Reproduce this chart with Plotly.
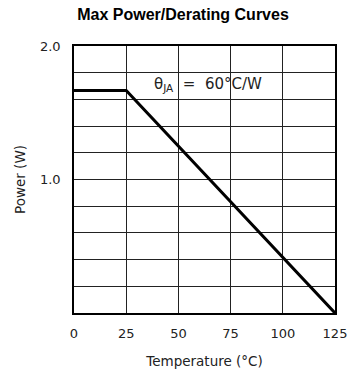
import plotly.graph_objects as go

# Data
temperature = [0, 25, 125]
power = [1.667, 1.667, 0.0]
x_ticks = [0, 25, 50, 75, 100, 125]
y_grid = [0.0, 0.2, 0.4, 0.6, 0.8, 1.0, 1.2, 1.4, 1.6, 1.8, 2.0]
y_labels = ["", "", "", "", "", "1.0", "", "", "", "", "2.0"]

fig = go.Figure()
fig.add_trace(go.Scatter(x=temperature, y=power, mode="lines",
                         line=dict(color="black", width=3), hoverinfo="skip"))

tick_font = dict(family="DejaVu Sans", size=13, color="#222")
title_font = dict(family="DejaVu Sans", size=13.5, color="#222")

fig.update_layout(
    width=359, height=379,
    margin=dict(l=74, r=14, t=46, b=63),
    paper_bgcolor="white", plot_bgcolor="white",
    showlegend=False,
    title=dict(text="<b>Max Power/Derating Curves</b>", x=183 / 359, xref="container",
               xanchor="center",
               y=1 - 14 / 379, yref="container", yanchor="middle",
               font=dict(family="Liberation Sans", size=16, color="black")),
    xaxis=dict(range=[0, 125], tickvals=x_ticks, ticktext=[str(v) for v in x_ticks],
               showgrid=True, gridcolor="#222", gridwidth=1,
               showline=True, linecolor="black", linewidth=1.5, mirror=True,
               ticks="outside", ticklen=8, tickcolor="rgba(0,0,0,0)",
               tickfont=tick_font, zeroline=False,
               title=dict(text="Temperature (°C)", font=title_font, standoff=16)),
    yaxis=dict(range=[0, 2], tickvals=y_grid, ticktext=y_labels,
               showgrid=True, gridcolor="#222", gridwidth=1,
               showline=True, linecolor="black", linewidth=1.5, mirror=True,
               ticks="outside", ticklen=9, tickcolor="rgba(0,0,0,0)",
               tickfont=tick_font, zeroline=False,
               title=dict(text="Power (W)", font=title_font, standoff=11)),
)

fig.add_annotation(x=37.3, y=1.715, xanchor="left", yanchor="middle",
                   text="θ<sub>JA</sub>\u00a0\u00a0=\u00a0\u00a060°C/W", showarrow=False,
                   font=dict(family="DejaVu Sans", size=15, color="#222"))

fig.write_html("out.html")
